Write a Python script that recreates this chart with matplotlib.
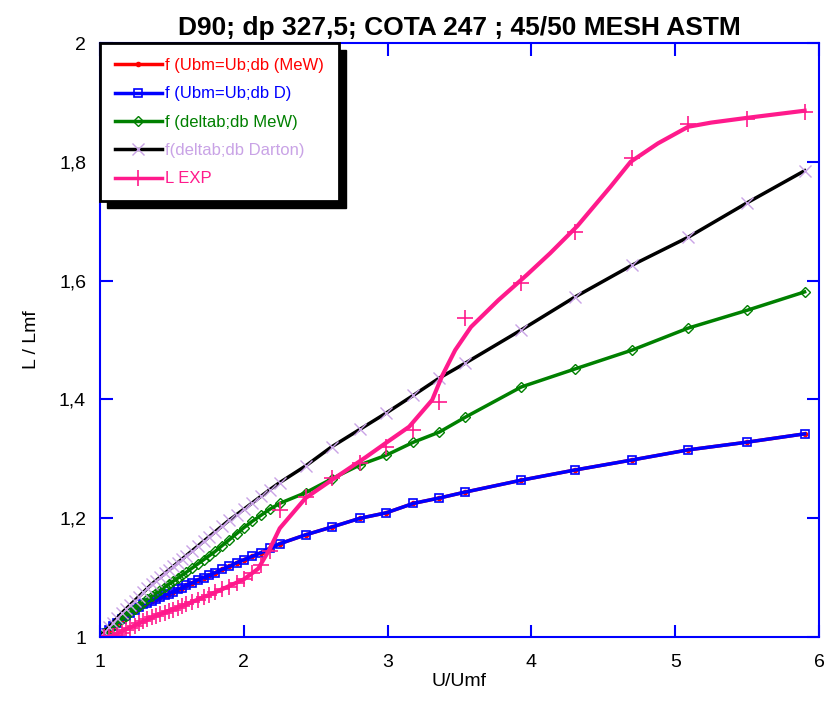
import matplotlib
matplotlib.use("Agg")
import matplotlib.pyplot as plt
from matplotlib.patches import Rectangle

plt.rcParams['font.family'] = ['Liberation Sans', 'DejaVu Sans']

# U/Umf values shared by the model curves and the experimental points
u_umf = [1.00, 1.03, 1.06, 1.09, 1.12, 1.15, 1.18, 1.21, 1.24, 1.27, 1.30, 1.33,
         1.36, 1.39, 1.42, 1.45, 1.48, 1.51, 1.54, 1.57, 1.60, 1.64, 1.68, 1.72,
         1.76, 1.80, 1.85, 1.90, 1.95, 2.00, 2.06, 2.12, 2.18, 2.25, 2.43, 2.61,
         2.81, 2.99, 3.18, 3.36, 3.54, 3.93, 4.30, 4.70, 5.09, 5.50, 5.90]

ubm_darton = [1.000, 1.006, 1.012, 1.018, 1.024, 1.030, 1.036, 1.041, 1.046, 1.051,
              1.055, 1.058, 1.061, 1.064, 1.067, 1.070, 1.073, 1.076, 1.080, 1.083,
              1.087, 1.091, 1.096, 1.100, 1.104, 1.108, 1.114, 1.119, 1.125, 1.130,
              1.136, 1.142, 1.149, 1.157, 1.172, 1.185, 1.200, 1.209, 1.225, 1.234,
              1.244, 1.264, 1.281, 1.298, 1.315, 1.328, 1.342]

# MeW curve with Ubm=Ub lies exactly under the Darton one
ubm_mew = [1.000, 1.006, 1.012, 1.018, 1.024, 1.030, 1.036, 1.041, 1.046, 1.051,
           1.055, 1.058, 1.061, 1.064, 1.067, 1.070, 1.073, 1.076, 1.080, 1.083,
           1.087, 1.091, 1.096, 1.100, 1.104, 1.108, 1.114, 1.119, 1.125, 1.130,
           1.136, 1.142, 1.149, 1.157, 1.172, 1.185, 1.200, 1.209, 1.225, 1.234,
           1.244, 1.264, 1.281, 1.298, 1.315, 1.328, 1.342]

delta_mew = [1.000, 1.006, 1.012, 1.018, 1.024, 1.030, 1.036, 1.042, 1.047, 1.053,
             1.058, 1.064, 1.069, 1.074, 1.079, 1.084, 1.089, 1.094, 1.099, 1.104,
             1.109, 1.116, 1.123, 1.130, 1.137, 1.144, 1.154, 1.164, 1.174, 1.184,
             1.195, 1.205, 1.215, 1.225, 1.243, 1.266, 1.290, 1.306, 1.328, 1.345,
             1.370, 1.421, 1.451, 1.483, 1.520, 1.550, 1.581]

delta_darton = [1.000, 1.008, 1.016, 1.024, 1.032, 1.040, 1.047, 1.054, 1.061, 1.068,
                1.075, 1.082, 1.089, 1.095, 1.101, 1.107, 1.113, 1.119, 1.125, 1.131,
                1.137, 1.145, 1.153, 1.161, 1.169, 1.177, 1.187, 1.197, 1.206, 1.215,
                1.226, 1.237, 1.248, 1.260, 1.288, 1.320, 1.350, 1.377, 1.407, 1.436,
                1.461, 1.517, 1.572, 1.626, 1.673, 1.731, 1.785]

l_exp = [1.000, 1.000, 1.000, 1.001, 1.003, 1.007, 1.011, 1.015, 1.019, 1.023,
         1.027, 1.030, 1.033, 1.036, 1.038, 1.041, 1.043, 1.046, 1.049, 1.052,
         1.055, 1.059, 1.063, 1.067, 1.071, 1.075, 1.080, 1.085, 1.091, 1.097,
         1.108, 1.122, 1.145, 1.214, 1.236, 1.268, 1.293, 1.320, 1.348, 1.396,
         1.537, 1.596, 1.682, 1.806, 1.864, 1.872, 1.884]

# smoothed line through the experimental points
exp_fit_x = [1.00, 1.06, 1.10, 1.20, 1.40, 1.60, 1.80, 2.00, 2.10, 2.18, 2.25, 2.43,
             2.61, 2.85, 2.99, 3.15, 3.31, 3.38, 3.47, 3.58, 3.77, 3.97, 4.13, 4.32,
             4.55, 4.69, 4.88, 5.09, 5.25, 5.50, 5.90]
exp_fit_y = [1.000, 1.000, 1.004, 1.015, 1.037, 1.055, 1.075, 1.097, 1.115, 1.148,
             1.183, 1.234, 1.264, 1.303, 1.327, 1.354, 1.399, 1.440, 1.483, 1.522,
             1.567, 1.610, 1.646, 1.692, 1.758, 1.800, 1.831, 1.859, 1.866, 1.874,
             1.886]

labels = ['f (Ubm=Ub;db (MeW)', 'f (Ubm=Ub;db D)', 'f (deltab;db MeW)',
          'f(deltab;db Darton)', 'L EXP']
x_ticks = [1, 2, 3, 4, 5, 6]
y_ticks = [1, 1.2, 1.4, 1.6, 1.8, 2]
y_tick_labels = ['1', '1,2', '1,4', '1,6', '1,8', '2']

blue = '#0000ff'
lav = '#c9a3e6'
pink = '#ff1a8c'

fig = plt.figure(figsize=(8.29, 7.11), dpi=100)
ax = fig.add_axes([100 / 829, 74 / 711, 719 / 829, 594 / 711])

ax.plot(u_umf, ubm_mew, color='red', lw=2.5, marker='o', ms=3, mfc='red', mec='red',
        label=labels[0])
ax.plot(u_umf, ubm_darton, color=blue, lw=2.5, marker='s', ms=6, mfc='none', mec=blue,
        mew=1.2, label=labels[1])
ax.plot(u_umf, delta_mew, color='green', lw=2.5, marker='D', ms=5, mfc='none', mec='green',
        mew=1, label=labels[2])
ax.plot(u_umf, delta_darton, color='black', lw=2.5, marker='x', ms=8, mec=lav, mew=1,
        label=labels[3])
ax.plot(exp_fit_x, exp_fit_y, color=pink, lw=3)
ax.plot(u_umf, l_exp, ls='none', marker='+', ms=11, mec=pink, mew=1.2)
ax.plot([], [], color=pink, lw=2.5, marker='+', ms=11, mec=pink, mew=1.2, label=labels[4])

ax.set_xlim(1, 6)
ax.set_ylim(1, 2)
ax.set_xticks(x_ticks)
ax.set_yticks(y_ticks)
ax.set_yticklabels(y_tick_labels)
ax.tick_params(direction='in', length=9, width=1.5, color=blue, top=True, right=True,
               labelsize=14)
ax.tick_params(axis='y', pad=10)
ax.tick_params(axis='x', pad=12)
for sp in ax.spines.values():
    sp.set_color(blue)
    sp.set_linewidth(1.5)

ax.set_xlabel('U/Umf', fontsize=14, labelpad=2)
ax.set_ylabel('L / Lmf', fontsize=14, labelpad=14)
ax.set_title('D90; dp 327,5; COTA 247 ; 45/50 MESH ASTM', fontsize=19,
             fontweight='bold', pad=6)

text_colors = ['red', blue, 'green', lav, pink]
leg = ax.legend(loc='upper left', bbox_to_anchor=(0, 1), borderaxespad=0,
                fontsize=12, handlelength=2.8, handletextpad=0.2, labelspacing=0.8,
                borderpad=0.9, fancybox=False, framealpha=1, edgecolor='black')
leg.get_frame().set_linewidth(2)
for t, c in zip(leg.get_texts(), text_colors):
    t.set_color(c)

# hard black shadow under the legend box
fig.canvas.draw()
inv = ax.transAxes.inverted()
bb = leg.get_window_extent().transformed(inv)
dx, dy = inv.transform((7, 7)) - inv.transform((0, 0))
ax.add_patch(Rectangle((bb.x0 + dx, bb.y0 - dy), bb.width, bb.height,
                       transform=ax.transAxes, color='black', zorder=4.9, clip_on=False))

fig.savefig('out.png', dpi=100)
